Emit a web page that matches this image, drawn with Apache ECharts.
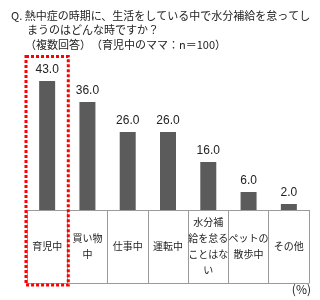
<!DOCTYPE html>
<html><head><meta charset="utf-8">
<script src="https://cdn.jsdelivr.net/npm/echarts@6/dist/echarts.min.js"></script>
<style>html,body{margin:0;padding:0;background:#fff}#c{width:320px;height:300px}</style>
</head><body><div id="c"></div>
<script>
const categories = ['育児中', '買い物\n中', '仕事中', '運転中', '水分補\n給を怠る\nことはな\nい', 'ペットの\n散歩中', 'その他'];
const values = [43.0, 36.0, 26.0, 26.0, 16.0, 6.0, 2.0];
const titleLines = ['Q. 熱中症の時期に、生活をしている中で水分補給を怠ってし', 'まうのはどんな時ですか？', '（複数回答）　（育児中のママ：n＝100）'];
const unitLabel = '(%)';
const highlightIndex = 0;

const cjk = '"Noto Sans CJK JP", sans-serif';
const chart = echarts.init(document.getElementById('c'), null, {renderer: 'canvas'});
const gridLeft = 27, gridRight = 11, gridTop = 60, gridBottom = 90;
const tableH = 73;
chart.setOption({
  animation: false,
  backgroundColor: '#fff',
  title: [
    {text: titleLines[0], left: 6, top: 5, textStyle: {fontSize: 11, fontWeight: 'normal', color: '#222', fontFamily: cjk}},
    {text: titleLines[1], left: 22, top: 19, textStyle: {fontSize: 11, fontWeight: 'normal', color: '#222', fontFamily: cjk}},
    {text: titleLines[2], left: 20, top: 34, textStyle: {fontSize: 11, fontWeight: 'normal', color: '#222', fontFamily: cjk}},
    {text: unitLabel, right: 9, top: 283, padding: 0, textStyle: {fontSize: 12, fontWeight: 'normal', color: '#222', fontFamily: cjk}}
  ],
  grid: {left: gridLeft, right: gridRight, top: gridTop, bottom: gridBottom, containLabel: false},
  xAxis: [{
    type: 'category', data: categories,
    axisLine: {show: true, lineStyle: {color: '#9a9a9a', width: 1}},
    axisTick: {show: true, interval: 0, length: tableH, lineStyle: {color: '#9a9a9a'}},
    axisLabel: {interval: 0, margin: tableH / 2, verticalAlign: 'middle', fontSize: 10, lineHeight: 16, color: '#222', fontFamily: cjk},
    splitLine: {show: false}
  }, {
    type: 'category', data: categories, position: 'bottom', offset: tableH,
    axisLine: {show: true, lineStyle: {color: '#9a9a9a', width: 1}},
    axisTick: {show: false}, axisLabel: {show: false}
  }],
  yAxis: {type: 'value', min: 0, max: 50, show: false, splitLine: {show: false}},
  series: [{
    type: 'bar', data: values, barWidth: 16,
    itemStyle: {color: '#5b5b5b'},
    label: {show: true, position: 'top', distance: 5, formatter: p => p.value.toFixed(1), fontSize: 12, color: '#222', fontFamily: 'Liberation Sans, Arial, sans-serif'}
  }]
});
// highlight box around the first category, computed from axis scale
const c0 = chart.convertToPixel({xAxisIndex: 0}, categories[highlightIndex]);
const c1 = chart.convertToPixel({xAxisIndex: 0}, categories[highlightIndex + 1]);
const cw = c1 - c0;
const axisY = chart.convertToPixel({yAxisIndex: 0}, 0);
chart.setOption({
  graphic: [{
    type: 'rect', z: 100,
    shape: {x: c0 - cw / 2 - 1, y: gridTop - 3.5, width: cw + 2, height: axisY + tableH + 2 - (gridTop - 3.5)},
    style: {fill: 'none', stroke: '#ff0000', lineWidth: 3, lineDash: [3, 2]}
  }]
});
</script></body></html>
